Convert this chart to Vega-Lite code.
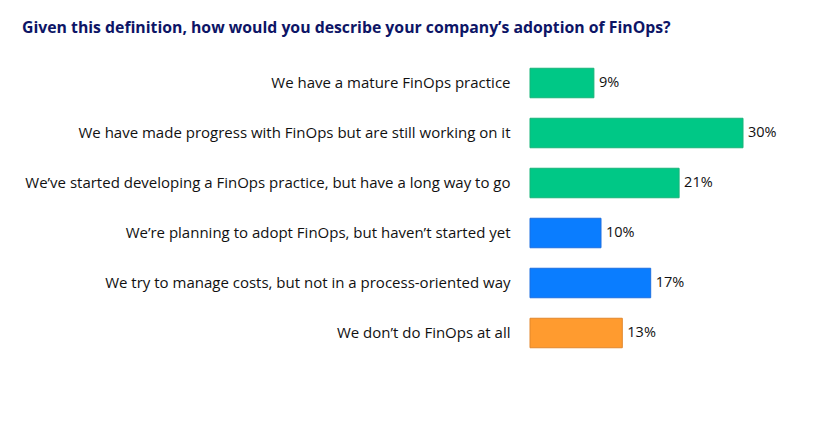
{
  "$schema": "https://vega.github.io/schema/vega-lite/v6.json",
  "autosize": "none",
  "width": 213,
  "height": 300,
  "padding": {"left": 530, "top": 58, "right": 76, "bottom": 65},
  "background": "white",
  "view": {"stroke": null},
  "title": {
    "text": "Given this definition, how would you describe your company’s adoption of FinOps?",
    "anchor": "start",
    "frame": "group",
    "dx": -508,
    "offset": 21,
    "font": "Open Sans",
    "fontSize": 15.8,
    "fontWeight": "bold",
    "color": "#0d1566"
  },
  "data": {
    "values": [
      {"answer": "We have a mature FinOps practice", "pct": 0.09, "group": "adopted"},
      {"answer": "We have made progress with FinOps but are still working on it", "pct": 0.30, "group": "adopted"},
      {"answer": "We’ve started developing a FinOps practice, but have a long way to go", "pct": 0.21, "group": "adopted"},
      {"answer": "We’re planning to adopt FinOps, but haven’t started yet", "pct": 0.10, "group": "planning"},
      {"answer": "We try to manage costs, but not in a process-oriented way", "pct": 0.17, "group": "planning"},
      {"answer": "We don’t do FinOps at all", "pct": 0.13, "group": "none"}
    ]
  },
  "encoding": {
    "y": {
      "field": "answer",
      "type": "nominal",
      "sort": null,
      "scale": {"paddingInner": 0.41, "paddingOuter": 0.205},
      "axis": {
        "title": null,
        "domain": false,
        "ticks": false,
        "labelPadding": 20,
        "labelFont": "Open Sans",
        "labelFontSize": 15,
        "labelColor": "#111111",
        "labelLimit": 600
      }
    },
    "x": {
      "field": "pct",
      "type": "quantitative",
      "scale": {"domain": [0, 0.30]},
      "axis": null
    }
  },
  "layer": [
    {
      "mark": {"type": "bar", "strokeWidth": 1},
      "encoding": {
        "color": {
          "field": "group",
          "type": "nominal",
          "scale": {"domain": ["adopted", "planning", "none"], "range": ["#00c886", "#0a7dff", "#ff9b2f"]},
          "legend": null
        },
        "stroke": {
          "field": "group",
          "type": "nominal",
          "scale": {"domain": ["adopted", "planning", "none"], "range": ["#17b479", "#1d6fe0", "#e2872c"]},
          "legend": null
        }
      }
    },
    {
      "mark": {"type": "text", "align": "left", "dx": 5, "font": "Open Sans", "fontSize": 14.5, "fontWeight": "normal", "color": "#111111"},
      "encoding": {
        "text": {"field": "pct", "type": "quantitative", "format": ".0%"}
      }
    }
  ]
}
